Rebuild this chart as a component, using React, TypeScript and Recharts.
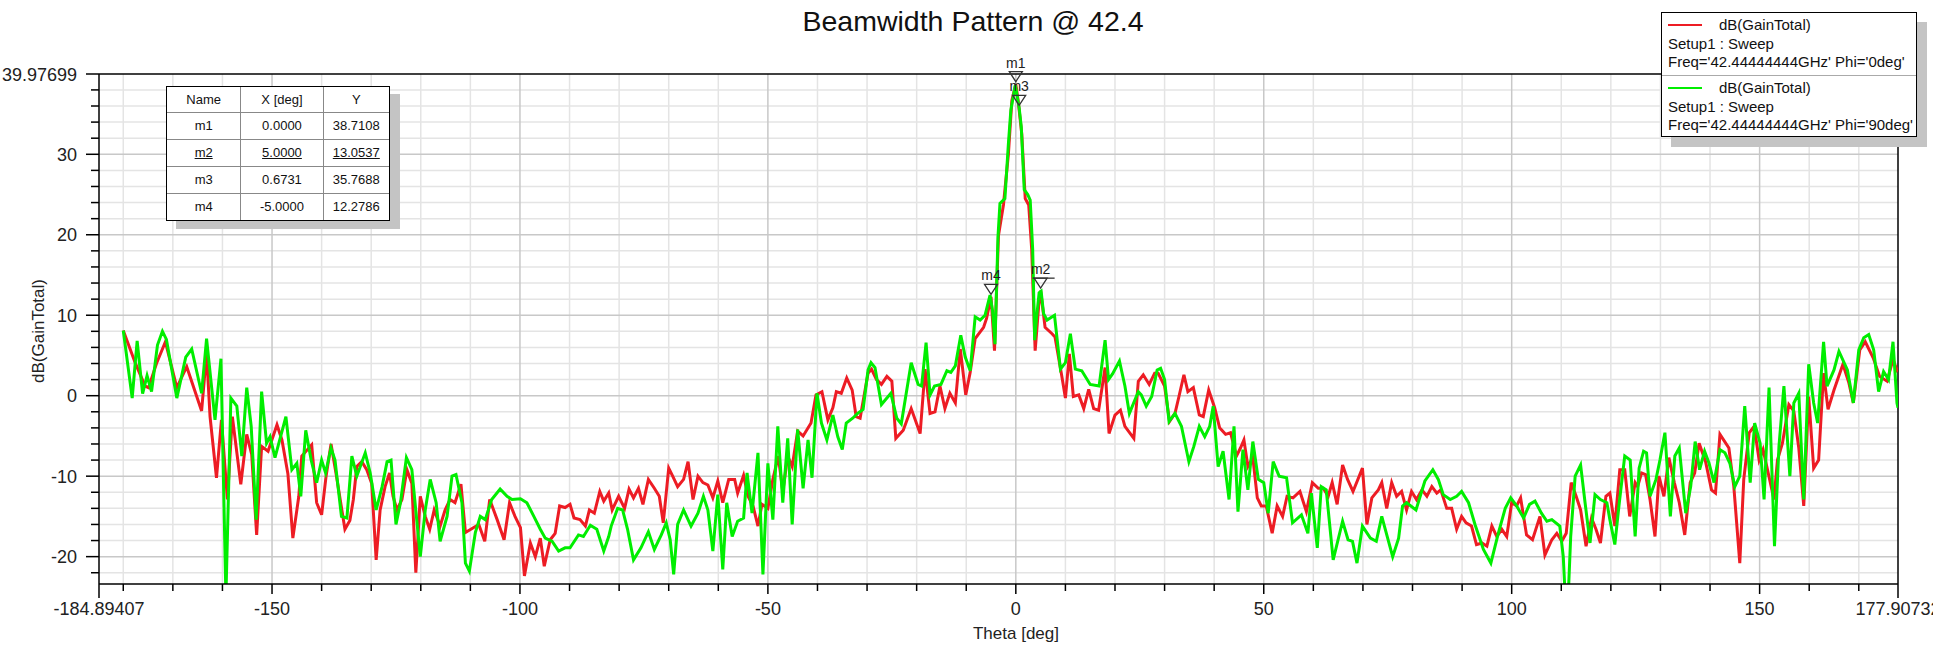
import React from 'react';
import { LineChart, Line, XAxis, YAxis, ReferenceLine, ReferenceDot } from 'recharts';

const W = 1933;
const H = 647;
const X_MIN = -184.89407;
const X_MAX = 177.90732;
const Y_MIN = -23.4;
const Y_MAX = 39.97699;

const redTheta = [
  -180, -177.6, -175.6, -174.9, -173.3, -171.5, -169.2, -167.2, -164.2, -163.2, -162.5, -161.2, -160.2, -159, -158, -156.3, -155.1, -154.1, -153.1, -152.1,
  -150.8, -149, -148, -146.8, -145.8, -144.6, -144, -142, -141, -140, -139.1, -138.1, -137, -135.3, -134.3, -133.6, -132.9, -131.9, -130.9, -129.9,
  -129, -128.2, -127.2, -126.3, -125.6, -124.8, -123.8, -122.8, -121.8, -121, -120.1, -119.1, -118.2, -117.3, -116.1, -115.1, -114.1, -113.1, -111.9, -111,
  -109.4, -108.3, -107.1, -106.1, -104.6, -103.2, -102.1, -101, -99.9, -99.1, -97.9, -96.9, -95.9, -95.1, -93.9, -92.9, -92, -90.9, -89.9, -89.1,
  -87.9, -86.8, -86, -85, -83.9, -83.1, -82.1, -81.4, -80.1, -78.9, -78, -77.1, -76.1, -75.2, -74.1, -72.9, -71.9, -71.1, -70, -69.2,
  -68.2, -67, -66.1, -65.1, -64.1, -63.1, -62.1, -61.1, -60.1, -59.1, -57.9, -56.7, -56.1, -54.9, -54, -53, -52, -51.2, -50, -49,
  -47.9, -47, -46, -45.1, -44, -42.9, -41.3, -40.3, -39.1, -37.9, -36.9, -36.2, -35.2, -34.1, -33, -32.2, -31.4, -30.8, -29.8, -29.1,
  -28.1, -27.1, -26, -25, -24.2, -22.7, -21.1, -19.3, -18.3, -17.3, -16.3, -15.3, -14.3, -13.3, -12.2, -11.2, -10.1, -9.2, -8.2, -6.5,
  -5.9, -5, -4.3, -3.5, -2.5, -1.5, -0.8, 0, 0.5, 1.2, 1.9, 2.6, 3.2, 3.9, 4.6, 5, 5.9, 7.3, 7.9, 9.2,
  10, 10.8, 11.6, 12.7, 13.7, 14.7, 15.7, 16.7, 18, 18.8, 20, 21.1, 22, 23.8, 24.7, 25.7, 26.9, 28, 28.7, 30,
  31, 32.1, 32.9, 33.9, 34.7, 35.8, 37, 37.8, 38.9, 40.1, 41.1, 42.3, 43.3, 44.5, 45.3, 46, 46.8, 47.8, 48.7, 49.5,
  50.5, 51.7, 52.7, 53.8, 54.7, 55.9, 57.3, 58.6, 59.8, 61, 62, 63, 63.8, 64.8, 65.9, 66.9, 68, 69.9, 70.8, 71.8,
  73.1, 73.8, 74.8, 75.8, 76.8, 77.8, 78.8, 79.8, 80.8, 81.9, 82.9, 83.9, 84.9, 85.7, 86.9, 87.9, 88.9, 89.9, 90.8, 91.9,
  92.9, 94, 95, 96, 97, 98, 99, 100, 101, 101.8, 103, 104.2, 105.7, 106.7, 108.1, 109.1, 110.1, 111, 112, 113,
  113.9, 115, 116.1, 117, 117.9, 119, 119.8, 120.8, 121.8, 122.8, 123.8, 124.9, 125.4, 126.2, 127, 127.9, 128.9, 129.7, 130.7, 131.7,
  132.8, 133.8, 134.9, 136, 136.9, 137.8, 139.1, 140.3, 141.1, 142, 143.8, 144.8, 146, 146.8, 147.9, 148.9, 149.9, 150.7, 152.9, 153.6,
  154.6, 155.9, 156.9, 157.9, 158.9, 159.9, 160.9, 161.9, 162.9, 163.8, 165, 166.8, 168, 168.9, 170.2, 171.3, 172.9, 174.2, 175.7, 176.9,
  177.7, 177.9,
];
const redGain = [
  8.1, 4.1, 1.2, 1.0, 4.0, 6.7, 1.0, 3.6, -1.9, 5.3, -2.6, -10.2, -3.0, -12.9, -2.6, -11, -4.8, -7.3, -17.3, -6.3,
  -6.9, -3.6, -5.5, -9.7, -17.7, -12.5, -7.5, -6.1, -13.3, -14.8, -10.0, -6.0, -10.0, -16.6, -15.5, -12.9, -8.8, -8.2, -9.2, -10.9,
  -20.4, -14.2, -11.3, -9.6, -12.5, -14.2, -12.9, -9.2, -10.9, -22, -12.5, -15, -16.6, -14.2, -16.2, -14.2, -12.9, -13.3, -11, -17,
  -16.4, -16, -18.1, -12.9, -15.4, -17.9, -13.3, -15, -16.4, -22.4, -18.3, -20, -17.7, -21.2, -17.9, -17.1, -13.7, -13.9, -13.5, -15.2,
  -15.4, -16.2, -14.2, -14.6, -11.9, -13.1, -12.1, -14.2, -12.5, -14, -11.6, -12.7, -11.5, -13.5, -10.4, -11.5, -12.5, -15.8, -9, -10,
  -11.3, -10.4, -8.2, -12.9, -10, -10.8, -11.1, -12.7, -10.6, -13.3, -10.4, -10.4, -12.1, -9.9, -12.5, -13.7, -16.2, -13.5, -14, -10.4,
  -7.5, -11.9, -7.5, -8.8, -4.4, -5, -3.4, 0.1, 0.5, -3, -1.5, 0.5, 0.3, 2.2, 0.7, -2.6, -2.8, -0.7, 2.8, 3.3,
  2.0, 1.4, 2.4, 1.8, -5.3, -4.3, -1.6, -4.7, 3.3, -2.2, -2.0, 1.2, -1.6, 0.3, -0.9, 5.8, 0.1, 2.9, 7.1, 8.5,
  9.6, 12.2786, 5.6, 19.9, 23.7, 30, 36.7, 38.7108, 36.5, 32.5, 24.5, 23.7, 18.2, 5.6, 11.1, 13.0537, 8.5, 7.7, 7.3, 2.7,
  -0.3, 5.2, -0.1, 0.1, -1.6, 0.8, -1.6, -1.8, 3.5, -4.7, -2.4, -1.8, -3.8, -5.3, 1.8, 2.6, 1.4, 2.8, 2.8, 1.2,
  -3.2, -2.2, -0.1, 2.6, 0.5, 1.0, -2.4, -2.6, 0.7, -1.5, -4, -4.8, -4.6, -7.5, -6.5, -5.5, -8.8, -7.7, -12.7, -13.7,
  -13.7, -17.1, -13.7, -15, -12.5, -12.7, -11.9, -14.4, -10.8, -11.5, -11.5, -12.5, -10.8, -13.5, -8.6, -10.4, -11.9, -9, -16, -12.7,
  -11.7, -10.8, -14, -10.8, -12.5, -11.9, -14.2, -11.9, -12.9, -11.7, -12.5, -11.3, -12.1, -11.7, -14, -14, -16.6, -15, -15.8, -16.2,
  -18.5, -18.3, -18.7, -16.2, -17.5, -16.6, -17.5, -13.3, -13.7, -12.7, -17.3, -17.9, -15, -19.8, -17.9, -17.1, -18.1, -17.1, -10.8, -12.5,
  -14.2, -18.7, -15.2, -16.6, -18.3, -12.5, -12.1, -16.2, -9.2, -9.2, -15, -10.8, -11.3, -9.6, -9.8, -12.9, -17.5, -10, -12.5, -7.7,
  -10.8, -13.3, -17.3, -10.8, -9.6, -5.9, -8.2, -11.7, -12.1, -4.8, -6.5, -11.3, -20.8, -10.4, -4.6, -3.8, -8, -6.7, -12.9, -8,
  -5.9, -1.1, -1.9, -6.5, -13.7, -0.1, -9, -8, 2.8, -1.7, 0.7, 3.9, 1.6, -0.9, 5.7, 6.7, 4.7, 2.4, 1.8, 4.5,
  3.2, 3.4,
];

const greenTheta = [
  -180, -178.2, -177.2, -176.1, -175.2, -174.3, -173.1, -172.1, -171.3, -169.2, -167.4, -166.2, -164.2, -163.2, -161.5, -160.3, -159.3, -158.3, -157.1, -156.1,
  -155.1, -154.2, -153.2, -152.1, -151.1, -150.4, -149.4, -147.2, -146, -145, -144.2, -143.2, -142.1, -141, -140, -139.2, -138.1, -137.3, -136, -134.9,
  -133.9, -132.9, -131.2, -130.2, -129, -127.8, -126.8, -126, -125, -124.1, -122.9, -121.8, -120.1, -119.1, -118.1, -116.9, -116.1, -114.7, -113.7, -112.9,
  -111.7, -111, -110.2, -109, -108, -107, -105.7, -104, -102.6, -101.6, -99.9, -98.6, -97.2, -95.9, -94.9, -93.5, -92.2, -90.9, -89.9, -88.2,
  -87.2, -85.8, -84.5, -83.1, -82.1, -81.6, -80.3, -79.3, -78.3, -77.1, -75.6, -74.1, -72.9, -71.5, -70.5, -69.7, -69, -68.2, -67, -65.5,
  -64.1, -63, -62.1, -61.1, -60.1, -59.1, -58.3, -57.2, -56.1, -54.9, -54.2, -53.2, -52, -51, -50, -49, -48, -47, -46, -45.1,
  -44, -42.9, -41.9, -41.1, -40.1, -39.2, -38.1, -36.9, -35.9, -35, -34.2, -32.9, -31.9, -30.8, -29.8, -29.2, -28.4, -27.1, -25.2, -24,
  -23.1, -21.1, -19.7, -19, -18.1, -17.3, -16.4, -15.1, -13.9, -13.1, -12.2, -11.1, -10.2, -9.2, -8.2, -7.2, -6.2, -5.2, -4.7, -4.2,
  -3.6, -3.2, -2.2, -1.5, -1, -0.5, -0.1, 0.6731, 1.1, 1.7, 2.4, 2.9, 3.4, 3.8, 4.2, 4.7, 5.1, 5.6, 6.3, 7.8,
  9, 10, 11, 12, 13.3, 15, 16.8, 18, 18.7, 19.5, 20.9, 22, 22.9, 24.7, 25.3, 26.3, 27.4, 28.5, 29.2, 30,
  30.9, 32.1, 33.4, 34.9, 35.9, 37, 38.1, 39.1, 39.8, 40.8, 41.8, 43, 44, 44.8, 45.8, 46.8, 47.8, 48.9, 50, 50.9,
  51.9, 53.1, 54.6, 55.8, 57.6, 58.9, 59.6, 60.8, 61.6, 62.6, 64, 65.9, 67, 67.9, 68.8, 69.9, 71.5, 72.7, 73.8, 76,
  77.2, 78, 78.8, 80.7, 82.5, 84.1, 85.2, 86.2, 87.6, 88.9, 89.9, 91.3, 92.6, 94.3, 95.8, 97.3, 98.7, 99.8, 101, 102.4,
  103.6, 104.7, 106, 107.1, 108.1, 109.7, 110.4, 110.8, 111.4, 111.9, 112.8, 113.9, 114.8, 115.8, 116.8, 117.9, 119.2, 119.8, 120.8, 121.7,
  122.8, 123.9, 124.9, 125.7, 126.6, 127.2, 127.9, 129.1, 129.9, 130.9, 132, 132.9, 133.8, 135.1, 136.1, 137, 137.9, 138.9, 139.8, 140.8,
  142, 143, 144, 145, 146, 147, 148.1, 149, 150.1, 150.9, 151.9, 153, 153.9, 154.9, 156.1, 156.9, 157.9, 158.9, 159.9, 160.9,
  161.7, 162.9, 163.6, 165, 166, 167.7, 168.9, 170, 171, 172, 173, 174, 175, 176, 176.9, 177.7, 177.9,
];
const greenGain = [
  8.1, -0.3, 6.8, 0.25, 2.5, 0.5, 6.3, 8.0, 7.0, -0.3, 4.8, 5.8, 0.3, 7.1, -3.0, 4.6, -25, -0.3, -1.3, -7.5,
  1.0, -3.8, -15.4, 0.5, -5.9, -5.1, -7.7, -2.6, -9.2, -8.4, -12.5, -4.3, -8, -10.8, -8, -9.6, -6.5, -8, -15, -15.2,
  -7.5, -10, -7.1, -9.6, -14.2, -11.3, -8.2, -8, -16, -13.3, -7.7, -9.2, -20, -14.2, -10.4, -13.3, -18.1, -15, -10, -9.8,
  -13.3, -20.8, -21.8, -17, -15, -15.4, -12.9, -11.6, -12.5, -12.9, -12.8, -13.3, -15, -16.6, -17.7, -18.1, -19.3, -18.9, -18.9, -17.3,
  -17.5, -16.1, -16.6, -19.3, -17.5, -16.2, -14, -14.2, -16.6, -20.4, -18.9, -16.9, -19.1, -17.3, -15.8, -17.9, -22.2, -16, -14.2, -16.2,
  -14.6, -12.5, -14.2, -19.3, -12.3, -21.6, -13.3, -17.5, -15.6, -15.2, -9.6, -14.6, -7.1, -22.2, -8.4, -15.4, -3.8, -13.3, -5.3, -16,
  -4.2, -11.5, -5.5, -10.2, 0.3, -3.4, -5.5, -2.4, -5.1, -6.7, -3.4, -2.8, -2.2, -1.7, 3.2, 4.1, 3.5, -1.1, 0.3, -2.8,
  -3.5, 4.1, 1.4, 1.2, 6.6, 0.1, 1.2, 1.4, 3.1, 2.9, 3.7, 7.5, 4.8, 3.1, 9.8, 9.4, 10, 12.5, 10.6, 6.4,
  19.7, 23.9, 24.5, 31.3, 35.5, 37.2, 38.6, 35.7688, 33.4, 25.6, 25, 24.3, 18.2, 6.9, 9.8, 12.8, 13, 10.2, 9.4, 10,
  3.3, 4.1, 7.7, 3.3, 3.1, 1.4, 1.2, 6.9, 2, 2.7, 4.3, 1.2, -2.2, 0.5, 0.1, -1.3, -0.1, 3.2, 3.4, 2.0,
  -3.2, -2.2, -3.8, -8.2, -6.3, -3.8, -5.1, -3.8, -1.3, -8.8, -6.9, -12.9, -3.8, -14.4, -6.7, -11.7, -5.7, -10.4, -10.8, -14.6,
  -8.2, -10, -10.2, -15.8, -14.8, -17.1, -12.1, -18.9, -11.3, -11.7, -20.4, -15.6, -17.9, -18.1, -20.8, -16.2, -17.7, -18.1, -15, -20,
  -17.7, -13.7, -13.3, -14.2, -10.6, -9.2, -10.4, -12.3, -12.9, -12.5, -11.9, -13.3, -16, -19.1, -20.8, -17.1, -14, -12.7, -13.7, -15.2,
  -13.5, -13.1, -14.6, -15.6, -15.4, -16.2, -20, -25, -25, -17.5, -10, -8.6, -13.3, -18.3, -12.3, -12.9, -13.3, -15.4, -18.5, -13.3,
  -7.5, -8, -17.5, -9, -6.9, -7.1, -12.5, -10.4, -8, -4.6, -15, -7.5, -6.5, -14.6, -11.3, -5.7, -9.2, -6.9, -8.4, -10.8,
  -6.7, -7.1, -8.4, -11.3, -10, -1.3, -10.8, -3.4, -5.9, -12.9, 1, -18.7, -6.3, 1.2, -10, -0.9, 0.3, -12.9, 3.9, -0.9,
  -3.4, 6.7, 1.2, 3.2, 5.5, 3.2, -0.9, 5.7, 7.2, 7.6, 5.7, 0.5, 3, 2, 6.7, -0.9, -1.5,
];

const markerNames = ['m1', 'm2', 'm3', 'm4'];
const markerTheta = [0, 5, 0.6731, -5];
const markerGain = [38.7108, 13.0537, 35.7688, 12.2786];
const markerXText = ['0.0000', '5.0000', '0.6731', '-5.0000'];
const markerYText = ['38.7108', '13.0537', '35.7688', '12.2786'];

const xMinorTicks = [-180, -170, -160, -140, -130, -120, -110, -90, -80, -70, -60, -40, -30, -20, -10, 10, 20, 30, 40, 60, 70, 80, 90, 110, 120, 130, 140, 160, 170];
const xMajorTicks = [-150, -100, -50, 0, 50, 100, 150];
const xEndTicks = [X_MIN, X_MAX];
const xEndLabels = ['-184.89407', '177.90732'];
const yMajorTicks = [-20, -10, 0, 10, 20, 30];
const yMinorTicks = [-22, -18, -16, -14, -12, -8, -6, -4, -2, 2, 4, 6, 8, 12, 14, 16, 18, 22, 24, 26, 28, 32, 34, 36, 38];
const yTopLabel = '39.97699';

const legendEntries = [
  { color: '#ed1c24', name: 'dB(GainTotal)', setup: 'Setup1 : Sweep', freq: "Freq='42.44444444GHz' Phi='0deg'" },
  { color: '#00ee00', name: 'dB(GainTotal)', setup: 'Setup1 : Sweep', freq: "Freq='42.44444444GHz' Phi='90deg'" },
];

const FONT = '"Liberation Sans", Arial, Helvetica, sans-serif';
const RED = '#ed1c24';
const GREEN = '#00ee00';

const redData = redTheta.map((t, i) => ({ theta: t, gain: redGain[i] }));
const greenData = greenTheta.map((t, i) => ({ theta: t, gain: greenGain[i] }));

const allXTicks = [...xEndTicks, ...xMinorTicks, ...xMajorTicks].sort((a, b) => a - b);
const allYTicks = [...yMinorTicks, ...yMajorTicks, Y_MAX].sort((a, b) => a - b);

const XTick = (props: any) => {
  const { x, y, payload } = props;
  const v = payload.value;
  const endIdx = xEndTicks.indexOf(v);
  const isMajor = xMajorTicks.includes(v);
  const len = endIdx >= 0 ? 14 : isMajor ? 10 : 7;
  let label: string | null = null;
  if (endIdx >= 0) label = xEndLabels[endIdx];
  else if (isMajor) label = String(v);
  return (
    <g>
      <line x1={x} y1={y} x2={x} y2={y + len} stroke="#000" strokeWidth={1.5} />
      {label !== null && (
        <text x={x} y={y + 31} textAnchor="middle" fontSize={18} fontFamily={FONT} fill="#222">
          {label}
        </text>
      )}
    </g>
  );
};

const YTick = (props: any) => {
  const { x, y, payload } = props;
  const v = payload.value;
  const isTop = Math.abs(v - Y_MAX) < 1e-6;
  const isMajor = yMajorTicks.includes(v);
  const len = isMajor || isTop ? 13 : 8;
  let label: string | null = null;
  if (isTop) label = yTopLabel;
  else if (isMajor) label = String(v);
  return (
    <g>
      <line x1={x - len} y1={y} x2={x} y2={y} stroke="#000" strokeWidth={1.5} />
      {label !== null && (
        <text x={x - 22} y={y + 6.5} textAnchor="end" fontSize={18} fontFamily={FONT} fill="#222">
          {label}
        </text>
      )}
    </g>
  );
};

const MarkerShape = (name: string) => (props: any) => {
  const { cx, cy } = props;
  const ay = cy - 2.5;
  const top = ay - 10;
  return (
    <g>
      <polygon points={`${cx - 6.5},${top} ${cx + 6.5},${top} ${cx},${ay}`} fill="none" stroke="#333" strokeWidth={1.3} />
      {name === 'm2' && <line x1={cx - 8} y1={top} x2={cx + 14} y2={top} stroke="#333" strokeWidth={1.3} />}
      <text x={cx} y={top - 4} textAnchor="middle" fontSize={14} fontFamily={FONT} fill="#222">
        {name}
      </text>
    </g>
  );
};

const tableCols = [74, 82, 66];
const tableHeader = ['Name', 'X [deg]', 'Y'];

export default function App() {
  return (
    <div style={{ position: 'absolute', left: 0, top: 0, width: W, height: H, background: '#fff', overflow: 'hidden', fontFamily: FONT }}>
      <div style={{ position: 'absolute', left: 0, width: 1946, top: 5, textAlign: 'center', fontSize: 28.5, color: '#111' }}>
        Beamwidth Pattern @ 42.4
      </div>
      <LineChart width={W} height={H} margin={{ top: 74, right: 35, bottom: 0, left: 0 }}>
        {xMinorTicks.map((v) => (
          <ReferenceLine key={'vx' + v} x={v} stroke="#e4e4e4" strokeWidth={1.5} />
        ))}
        {yMinorTicks.map((v) => (
          <ReferenceLine key={'hy' + v} y={v} stroke="#e4e4e4" strokeWidth={1.5} />
        ))}
        {xMajorTicks.map((v) => (
          <ReferenceLine key={'Vx' + v} x={v} stroke="#c8c8c8" strokeWidth={1.5} />
        ))}
        {yMajorTicks.map((v) => (
          <ReferenceLine key={'Hy' + v} y={v} stroke="#c8c8c8" strokeWidth={1.5} />
        ))}
        <ReferenceLine y={Y_MAX} stroke="#000" strokeWidth={1.5} />
        <ReferenceLine x={X_MAX} stroke="#000" strokeWidth={1.5} />
        <XAxis
          type="number"
          dataKey="theta"
          domain={[X_MIN, X_MAX]}
          allowDataOverflow
          ticks={allXTicks}
          interval={0}
          height={63}
          tickSize={0}
          tickMargin={0}
          tickLine={false}
          tick={<XTick />}
          axisLine={{ stroke: '#000', strokeWidth: 1.5 }}
        />
        <YAxis
          type="number"
          domain={[Y_MIN, Y_MAX]}
          allowDataOverflow
          ticks={allYTicks}
          interval={0}
          width={99}
          tickSize={0}
          tickMargin={0}
          tickLine={false}
          tick={<YTick />}
          axisLine={{ stroke: '#000', strokeWidth: 1.5 }}
        />
        <Line data={redData} dataKey="gain" type="linear" stroke={RED} strokeWidth={3} dot={false} isAnimationActive={false} />
        <Line data={greenData} dataKey="gain" type="linear" stroke={GREEN} strokeWidth={3} dot={false} isAnimationActive={false} />
        {markerNames.map((n, i) => (
          <ReferenceDot key={n} x={markerTheta[i]} y={markerGain[i]} r={0} shape={MarkerShape(n)} />
        ))}
      </LineChart>
      <div style={{ position: 'absolute', left: 1016 - 80, width: 160, top: 624, textAlign: 'center', fontSize: 17, color: '#222' }}>
        Theta [deg]
      </div>
      <div
        style={{
          position: 'absolute',
          left: 39 - 70,
          top: 331 - 11,
          width: 140,
          height: 22,
          lineHeight: '22px',
          textAlign: 'center',
          fontSize: 17,
          color: '#222',
          transform: 'rotate(-90deg)',
        }}
      >
        dB(GainTotal)
      </div>
      {/* marker table */}
      <div
        style={{
          position: 'absolute',
          left: 166,
          top: 86,
          width: tableCols.reduce((a, b) => a + b, 0),
          border: '1px solid #000',
          background: '#fff',
          boxShadow: '10px 8px 0 #c4c4c4',
          fontSize: 13,
          color: '#111',
        }}
      >
        {[tableHeader, ...markerNames.map((n, i) => [n, markerXText[i], markerYText[i]])].map((row, r) => (
          <div key={r} style={{ display: 'flex', height: r === 0 ? 25 : 26, borderTop: r === 0 ? 'none' : '1px solid #888' }}>
            {row.map((cell, c) => (
              <div
                key={c}
                style={{
                  width: tableCols[c],
                  borderLeft: c === 0 ? 'none' : '1px solid #888',
                  textAlign: 'center',
                  lineHeight: (r === 0 ? 25 : 26) + 'px',
                  textDecoration: r === 2 ? 'underline' : 'none',
                }}
              >
                {cell}
              </div>
            ))}
          </div>
        ))}
      </div>
      {/* legend */}
      <div
        style={{
          position: 'absolute',
          left: 1661,
          top: 12,
          width: 256,
          height: 125,
          border: '1px solid #000',
          background: '#fff',
          boxShadow: '10px 10px 0 #c4c4c4',
          boxSizing: 'border-box',
          fontSize: 15,
          color: '#111',
        }}
      >
        {legendEntries.map((e, i) => (
          <div key={i} style={{ height: 62, borderTop: i === 0 ? 'none' : '1px solid #aaa', boxSizing: 'border-box', padding: '3px 0 0 6px', lineHeight: '18.5px' }}>
            <div style={{ display: 'flex', alignItems: 'center' }}>
              <div style={{ width: 34, height: 2, background: e.color, marginRight: 17 }} />
              <span>{e.name}</span>
            </div>
            <div>{e.setup}</div>
            <div style={{ whiteSpace: 'nowrap' }}>{e.freq}</div>
          </div>
        ))}
      </div>
    </div>
  );
}
